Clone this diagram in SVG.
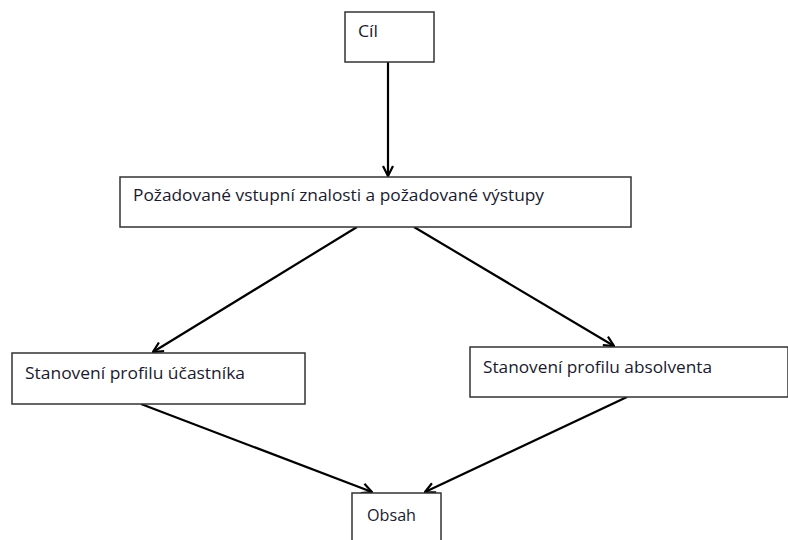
<svg xmlns="http://www.w3.org/2000/svg" width="788" height="540" viewBox="0 0 788 540">
<style>
.box{fill:#fff;stroke:#333;stroke-width:1.5}
.t{font-family:"Open Sans","Liberation Sans",sans-serif;font-size:16px;fill:#1a1a2e}
.c{stroke:#000;stroke-width:2.2;fill:none}
</style>
<defs>
<marker id="ah" viewBox="0 0 12 12" refX="11" refY="6" markerWidth="12" markerHeight="12" markerUnits="userSpaceOnUse" orient="auto">
<path d="M1,1 L11,6 L1,11" fill="none" stroke="#000" stroke-width="2.2"/>
</marker>
</defs>
<rect width="788" height="540" fill="#fff"/>
<g id="connectors">
<line class="c" x1="388" y1="62" x2="388" y2="176" marker-end="url(#ah)"/>
<line class="c" x1="357" y1="227" x2="153" y2="352" marker-end="url(#ah)"/>
<line class="c" x1="414" y1="227" x2="614" y2="346" marker-end="url(#ah)"/>
<line class="c" x1="141" y1="404" x2="372" y2="492" marker-end="url(#ah)"/>
<line class="c" x1="627" y1="397" x2="425" y2="492" marker-end="url(#ah)"/>
</g>
<g id="cil">
<rect class="box" x="345" y="12" width="89" height="50"/>
<text class="t" x="358" y="37" textLength="20" lengthAdjust="spacingAndGlyphs">Cíl</text>
</g>
<g id="pozadovane">
<rect class="box" x="120" y="177" width="511" height="50"/>
<text class="t" x="133" y="201" textLength="411" lengthAdjust="spacingAndGlyphs">Požadované vstupní znalosti a požadované výstupy</text>
</g>
<g id="ucastnik">
<rect class="box" x="12" y="353" width="293" height="51"/>
<text class="t" x="25" y="379" textLength="220" lengthAdjust="spacingAndGlyphs">Stanovení profilu účastníka</text>
</g>
<g id="absolvent">
<rect class="box" x="470" y="347" width="318" height="50"/>
<text class="t" x="483" y="373" textLength="229" lengthAdjust="spacingAndGlyphs">Stanovení profilu absolventa</text>
</g>
<g id="obsah">
<rect class="box" x="352" y="493" width="89" height="60"/>
<text class="t" x="367" y="521" textLength="49" lengthAdjust="spacingAndGlyphs">Obsah</text>
</g>
</svg>
